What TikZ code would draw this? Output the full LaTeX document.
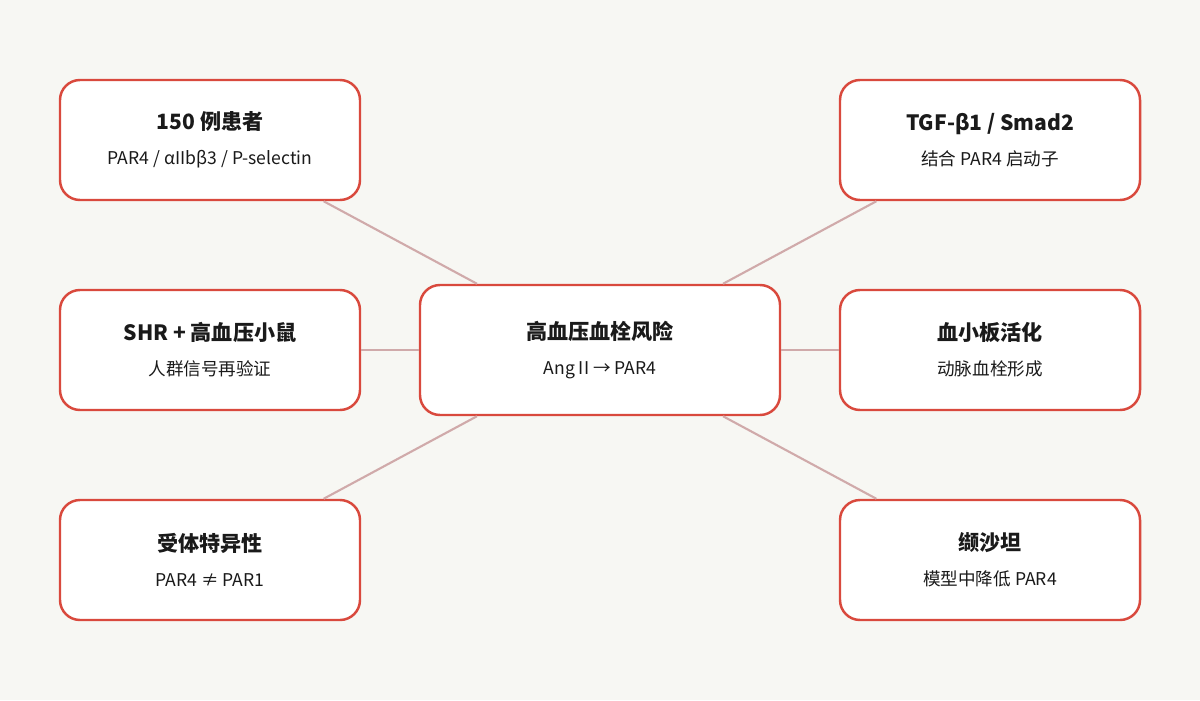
\documentclass[tikz,border=0pt]{standalone}
\usepackage{fontspec}
\setmainfont{Noto Sans CJK SC}
\usetikzlibrary{positioning}
\definecolor{bgpaper}{HTML}{F7F7F3}
\definecolor{boxred}{HTML}{D9493D}
\definecolor{linkpink}{HTML}{D0AAAA}
\definecolor{inktext}{HTML}{1A1A1A}
\tikzset{
card/.style={draw=boxred, line width=1.4pt, fill=white, rounded corners=0.4cm,
  minimum width=6cm, minimum height=2.4cm, align=center, text=inktext}, % outer boxes
hub/.style={card, minimum width=7.2cm, minimum height=2.6cm}, % centre box
link/.style={draw=linkpink, line width=1.2pt}, % connectors
}
\newcommand{\cardtext}[2]{{\fontsize{12pt}{14pt}\selectfont\bfseries #1}\\[8pt]{\fontsize{10pt}{12pt}\selectfont #2}}

\begin{document}
\begin{tikzpicture}
    \fill[bgpaper] (0,0) rectangle (24,-14);
    \useasboundingbox (0,0) rectangle (24,-14);
    \node[hub] (hub) at (12,-7) {\cardtext{高血压血栓风险}{Ang II → PAR4}};
    \node[card] (patients) at (4.2,-2.8) {\cardtext{150 例患者}{PAR4 / αIIbβ3 / P-selectin}};
    \node[card] (mice) at (4.2,-7) {\cardtext{SHR + 高血压小鼠}{人群信号再验证}};
    \node[card] (receptor) at (4.2,-11.2) {\cardtext{受体特异性}{PAR4 ≠ PAR1}};
    \node[card] (tgf) at (19.8,-2.8) {\cardtext{TGF-β1 / Smad2}{结合 PAR4 启动子}};
    \node[card] (platelet) at (19.8,-7) {\cardtext{血小板活化}{动脉血栓形成}};
    \node[card] (valsartan) at (19.8,-11.2) {\cardtext{缬沙坦}{模型中降低 PAR4}};
    % links
    \foreach \n in {patients, mice, receptor, tgf, platelet, valsartan}
        \draw[link] (hub) -- (\n);
\end{tikzpicture}
\end{document}
